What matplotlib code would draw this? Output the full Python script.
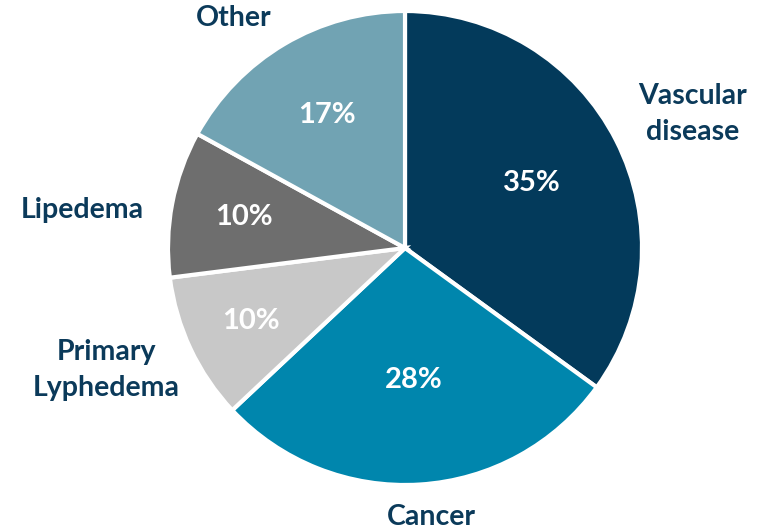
import numpy as np
import matplotlib
matplotlib.use('Agg')
import matplotlib.pyplot as plt

# slice data, clockwise from the top
labels = ['Vascular\ndisease', 'Cancer', 'Primary\nLyphedema', 'Lipedema', 'Other']
shares = [35, 28, 10, 10, 17]
colors = ['#033A5B', '#0086AD', '#C8C8C8', '#6E6E6E', '#71A3B3']

# where the text sits, as fraction of radius from the centre
pct_dist = [0.60, 0.56, 0.72, 0.69, 0.65]
lab_dist = [1.34, 1.14, 1.36, 1.37, 1.21]
lab_shift = [-2, 2, -3, 4, 6]  # degrees

fig = plt.figure(figsize=(7.65, 5.31), dpi=100)
ax = fig.add_axes([0, 0, 1, 1])

cx, cy, r = 405, 283, 237
wedges, _ = ax.pie(shares, colors=colors, startangle=90, counterclock=False,
                   center=(cx, cy), radius=r, frame=True,
                   wedgeprops=dict(edgecolor='white', linewidth=3))
ax.set_xlim(0, 765)
ax.set_ylim(0, 531)
ax.set_aspect('equal')
ax.axis('off')

for w, lab, s, pd_, ld, sh in zip(wedges, labels, shares, pct_dist, lab_dist, lab_shift):
    mid = np.deg2rad((w.theta1 + w.theta2) / 2)
    ax.text(cx + pd_ * r * np.cos(mid), cy + pd_ * r * np.sin(mid), f'{s}%',
            color='white', ha='center', va='center',
            family='Lato', fontweight='bold', fontsize=21)
    a = mid + np.deg2rad(sh)
    ax.text(cx + ld * r * np.cos(a), cy + ld * r * np.sin(a), lab,
            color='#0B3A5A', ha='center', va='center', linespacing=1.5,
            family='Lato', fontweight='bold', fontsize=20.5)

plt.savefig('out.png', dpi=100)
